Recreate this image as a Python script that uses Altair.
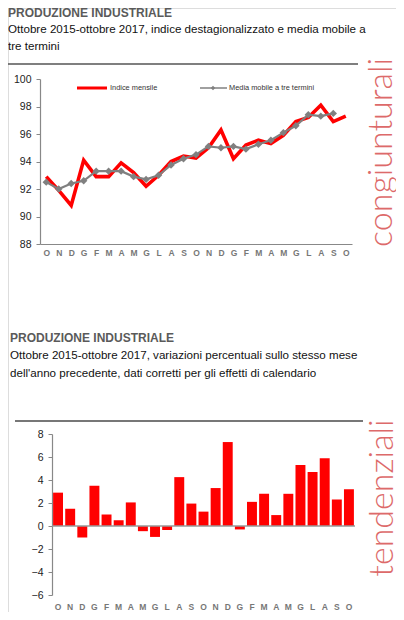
import altair as alt
import pandas as pd

# ---------------- data ----------------
months = list("ONDGFMAMGLASONDGFMAMGLASO")  # ottobre 2015 - ottobre 2017
indice_mensile = [92.9, 91.9, 90.8, 94.1, 92.9, 92.9, 93.9, 93.2, 92.2, 93.0,
                  94.0, 94.4, 94.25, 95.0, 96.3, 94.2, 95.2, 95.55, 95.3, 95.9,
                  96.9, 97.2, 98.1, 96.9, 97.3]
media_mobile = [92.5, 92.0, 92.4, 92.6, 93.3, 93.3, 93.3, 92.9, 92.7, 93.0,
                93.75, 94.2, 94.5, 95.1, 95.0, 95.1, 94.9, 95.25, 95.55, 96.1,
                96.6, 97.4, 97.3, 97.5]
variazioni = [2.9, 1.5, -1.0, 3.5, 1.0, 0.5, 2.05, -0.45, -0.95, -0.35,
              4.25, 1.95, 1.25, 3.3, 7.3, -0.3, 2.1, 2.8, 0.95, 2.8,
              5.3, 4.7, 5.9, 2.3, 3.2]
top_ticks = [88, 90, 92, 94, 96, 98, 100]
bottom_ticks = [-6, -4, -2, 0, 2, 4, 6, 8]

title_text = "PRODUZIONE INDUSTRIALE"
top_sub = ["Ottobre 2015-ottobre 2017, indice destagionalizzato e media mobile a",
           "tre termini"]
bottom_sub = ["Ottobre 2015-ottobre 2017, variazioni percentuali sullo stesso mese",
              "dell'anno precedente, dati corretti per gli effetti di calendario"]
legend_labels = ["Indice mensile", "Media mobile a tre termini"]
side_top = "congiunturali"
side_bottom = "tendenziali"

keys = [f"{i:02d}{m}" for i, m in enumerate(months)]
df_ind = pd.DataFrame({"mese": keys, "valore": indice_mensile})
df_mm = pd.DataFrame({"mese": keys[:len(media_mobile)], "valore": media_mobile})
df_var = pd.DataFrame({"mese": keys, "valore": variazioni})
df_zero = pd.DataFrame({"valore": [0]})

FONT = "Liberation Sans"
SIDE_FONT = "Lato"
RED = "#ff0000"
GRAY = "#808080"
SIDE = "#dd6a6a"
label_expr = "substring(datum.label, 2)"

W, H = 388, 604          # whole drawing area (one view, fixed size)
TOP_Y = [236, 71]        # pixel range of the upper panel's value axis
BOT_Y = [587, 426]       # pixel range of the lower panel's value axis


def txt(text, x, y, **kw):
    return alt.Chart(pd.DataFrame({"t": [text]})).mark_text(**kw).encode(
        x=alt.value(x), y=alt.value(y), text="t:N")


def hrule(x1, x2, y, color, width):
    return alt.Chart(pd.DataFrame({"a": [0]})).mark_rule(
        color=color, strokeWidth=width).encode(
        x=alt.value(x1), x2=alt.value(x2), y=alt.value(y))


# ---------------- upper panel: indice ----------------
top_x_scale = alt.Scale(domain=keys, type="point", padding=0.5, range=[32, 344])
top_y_scale = alt.Scale(domain=[88, 100], nice=False, zero=False, range=TOP_Y)

x_top = alt.X("mese:N", sort=keys, scale=top_x_scale,
              axis=alt.Axis(orient="bottom", offset=TOP_Y[0] - H,
                            labelExpr=label_expr, labelAngle=0, ticks=False,
                            labelFontSize=8.5, labelFontWeight="bold",
                            labelColor="#777", domainColor="#888",
                            domainWidth=1.2, labelPadding=4, title=None))
y_top = alt.Y("valore:Q", scale=top_y_scale,
              axis=alt.Axis(orient="left", offset=-32, values=top_ticks,
                            labelFontSize=10.5, labelColor="#222",
                            tickColor="#888", domainColor="#888",
                            domainWidth=1.2, tickSize=4, labelPadding=5,
                            grid=False, title=None, labelOverlap=False))
x_top_n = alt.X("mese:N", sort=keys, scale=top_x_scale, axis=None)
y_top_n = alt.Y("valore:Q", scale=top_y_scale, axis=None)

red_line = alt.Chart(df_ind).mark_line(color=RED, strokeWidth=3.6).encode(
    x=x_top, y=y_top)
gray_line = alt.Chart(df_mm).mark_line(color=GRAY, strokeWidth=2.2).encode(
    x=x_top_n, y=y_top_n)
gray_pts = alt.Chart(df_mm).mark_point(shape="diamond", filled=True,
                                       color=GRAY, size=55, opacity=1).encode(
    x=x_top_n, y=y_top_n)

# ---------------- lower panel: variazioni ----------------
bot_x_scale = alt.Scale(domain=keys, range=[44, 347],
                        paddingInner=0.18, paddingOuter=0.09)
bot_y_scale = alt.Scale(domain=[-6, 8], nice=False, range=BOT_Y)

x_bot = alt.X("mese:N", sort=keys, scale=bot_x_scale,
              axis=alt.Axis(orient="bottom", offset=BOT_Y[0] - H,
                            labelExpr=label_expr, labelAngle=0, ticks=False,
                            domain=False, labelFontSize=8.5,
                            labelFontWeight="bold", labelColor="#777",
                            labelPadding=7, title=None))
y_bot = alt.Y("valore:Q", scale=bot_y_scale,
              axis=alt.Axis(orient="left", offset=-44, values=bottom_ticks,
                            labelFontSize=10.5, labelColor="#222",
                            tickColor="#888", domainColor="#888",
                            domainWidth=1.2, tickSize=4, labelPadding=5,
                            grid=False, title=None, labelOverlap=False))
y_bot_n = alt.Y("valore:Q", scale=bot_y_scale, axis=None)

bars = alt.Chart(df_var).mark_bar(color=RED).encode(x=x_bot, y=y_bot)
zero = alt.Chart(df_zero).mark_rule(color="#999", strokeWidth=1.5).encode(
    x=alt.value(44), x2=alt.value(347), y=y_bot_n)

chart = alt.layer(
    # upper panel
    red_line, gray_line, gray_pts,
    txt(title_text, 0, 5, align="left", baseline="middle", fontSize=12,
        fontWeight="bold", color="#5a5a5a"),
    txt(top_sub[0], 0, 22, align="left", baseline="middle", fontSize=11.6,
        color="#111"),
    txt(top_sub[1], 0, 39, align="left", baseline="middle", fontSize=11.6,
        color="#111"),
    hrule(0, 350, 56, "#555", 1.5),
    txt(side_top, 373.5, 144.5, align="center", baseline="middle", angle=270,
        fontSize=34, font=SIDE_FONT, fontWeight=300, color=SIDE),
    hrule(69, 99, 80, RED, 3),
    txt(legend_labels[0], 102, 80, align="left", baseline="middle",
        fontSize=7.4, color="#333"),
    hrule(192, 219, 80, GRAY, 1.5),
    alt.Chart(pd.DataFrame({"a": [0]})).mark_point(
        shape="diamond", filled=True, color=GRAY, size=20, opacity=1).encode(
        x=alt.value(205), y=alt.value(80)),
    txt(legend_labels[1], 221, 80, align="left", baseline="middle",
        fontSize=7.4, color="#333"),
    # lower panel
    bars, zero,
    txt(title_text, 2, 330, align="left", baseline="middle", fontSize=12,
        fontWeight="bold", color="#5a5a5a"),
    txt(bottom_sub[0], 2, 348, align="left", baseline="middle",
        fontSize=11.6, color="#111"),
    txt(bottom_sub[1], 2, 366, align="left", baseline="middle",
        fontSize=11.6, color="#111"),
    hrule(7, 355, 413, "#777", 2),
    txt(side_bottom, 375, 490, align="center", baseline="middle", angle=270,
        fontSize=34, font=SIDE_FONT, fontWeight=300, color=SIDE),
).resolve_scale(x="independent", y="independent").properties(
    width=W, height=H, padding=0, background="white",
    autosize=alt.AutoSizeParams(type="none")
).configure_view(stroke=None, strokeWidth=0, strokeOpacity=0).configure(font=FONT)

chart.save("out.html", embed_options={"renderer": "svg", "actions": False})
